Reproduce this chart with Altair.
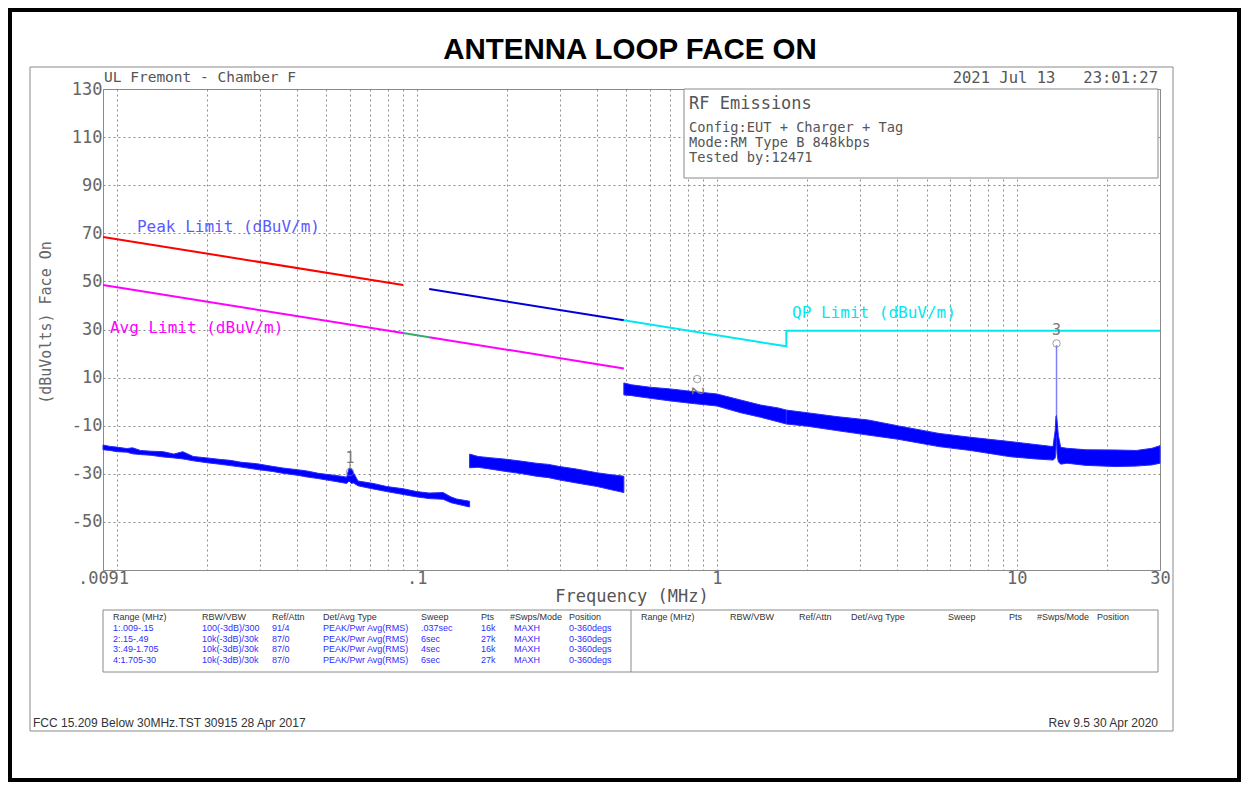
import altair as alt
import pandas as pd

# ---------------- text content ----------------
chart_title = "ANTENNA LOOP FACE ON"
site_label = "UL Fremont - Chamber F"
time_stamp = "2021 Jul 13\u00a0\u00a0\u00a023:01:27"
info_heading = "RF Emissions"
info_lines = ["Config:EUT + Charger + Tag", "Mode:RM Type B 848kbps", "Tested by:12471"]
footer_left = "FCC 15.209 Below 30MHz.TST 30915 28 Apr 2017"
footer_right = "Rev 9.5 30 Apr 2020"
x_title = "Frequency (MHz)"
y_title = "(dBuVolts) Face On"

# ---------------- axes ----------------
x_grid_values = [0.009, 0.01, 0.02, 0.03, 0.04, 0.05, 0.06, 0.07, 0.08, 0.09,
                 0.1, 0.2, 0.3, 0.4, 0.5, 0.6, 0.7, 0.8, 0.9,
                 1, 2, 3, 4, 5, 6, 7, 8, 9, 10, 20, 30]
x_tick_values = [0.009, 0.1, 1, 10, 30]
x_tick_labels = [".0091", ".1", "1", "10", "30"]
y_grid_values = [-70, -50, -30, -10, 10, 30, 50, 70, 90, 110, 130]
y_tick_labels = ["", "-50", "-30", "-10", "10", "30", "50", "70", "90", "110", "130"]

# ---------------- limit lines ----------------
limit_names = ["peak_a", "peak_b", "avg_a", "avg_gap", "avg_b", "qp"]
limit_freqs = [[0.009, 0.09], [0.11, 0.49], [0.009, 0.09], [0.09, 0.11], [0.11, 0.49],
               [0.49, 1.705, 1.705, 30]]
limit_levels = [[68.5, 48.5], [46.8, 33.8], [48.5, 28.5], [28.5, 26.8], [26.8, 13.8],
                [33.8, 23.0, 29.5, 29.5]]
limit_colors = ["#ff0000", "#0000d8", "#ff00ff", "#3aa870", "#ff00ff", "#00e8f0"]

limit_label_texts = ["Peak Limit (dBuV/m)", "Avg Limit (dBuV/m)", "QP Limit (dBuV/m)"]
limit_label_colors = ["#5a5aff", "#ff00ff", "#00e8f0"]

# ---------------- measured traces (freq MHz, lower, upper dBuV) ----------------
seg1_f = [0.0090, 0.0095, 0.0100, 0.0108, 0.0113, 0.0120, 0.0130, 0.0143, 0.0155, 0.0166,
          0.0180, 0.0200, 0.0220, 0.0239, 0.0260, 0.0293, 0.0330, 0.0358, 0.0400, 0.0430,
          0.0470, 0.0514, 0.0560, 0.0584, 0.0595, 0.0605, 0.0615, 0.0637, 0.0715, 0.0795,
          0.0900, 0.1000, 0.1100, 0.1224, 0.1300, 0.1360, 0.1500]
seg1_lo = [-20.0, -20.3, -20.8, -21.0, -21.7, -22.0, -22.3, -23.0, -23.4, -23.8,
           -24.6, -25.4, -26.0, -26.6, -27.2, -28.2, -29.0, -29.8, -30.6, -31.3,
           -32.0, -32.8, -33.6, -34.0, -33.0, -34.0, -33.8, -35.0, -36.3, -37.4,
           -38.6, -39.6, -40.3, -40.6, -42.0, -42.6, -43.8]
seg1_hi = [-18.0, -18.6, -18.9, -19.5, -19.2, -20.3, -20.6, -20.8, -21.8, -20.8,
           -22.8, -23.4, -24.0, -24.4, -25.2, -25.8, -26.9, -27.6, -28.3, -28.8,
           -29.8, -30.4, -31.0, -31.4, -27.6, -27.8, -29.5, -33.0, -34.0, -35.3,
           -36.2, -37.4, -38.0, -37.8, -39.6, -40.5, -41.4]

seg2_f = [0.150, 0.160, 0.175, 0.200, 0.225, 0.250, 0.275, 0.300, 0.340, 0.400, 0.440, 0.490]
seg2_lo = [-27.5, -27.3, -28.0, -29.1, -30.0, -31.0, -31.6, -32.6, -33.8, -35.3, -36.5, -37.8]
seg2_hi = [-21.8, -22.8, -23.3, -24.0, -24.8, -25.6, -26.1, -27.0, -28.0, -29.6, -30.3, -31.0]

seg3_f = [0.490, 0.520, 0.600, 0.700, 0.820, 1.000, 1.200, 1.400, 1.600, 1.705]
seg3_lo = [2.8, 2.5, 1.4, 0.3, -0.7, -1.8, -4.6, -6.5, -8.4, -9.3]
seg3_hi = [7.8, 7.0, 6.0, 5.3, 4.3, 3.2, 0.7, -1.4, -2.6, -3.5]

seg4_f = [1.705, 2.0, 2.5, 3.19, 4.0, 5.5, 7.0, 9.5, 11.5, 13.2, 13.42, 13.50, 13.56,
          13.62, 13.75, 14.0, 14.7, 17.0, 21.4, 25.0, 28.2, 30.0]
seg4_lo = [-9.3, -10.2, -12.0, -13.9, -15.6, -18.7, -20.3, -22.9, -23.8, -24.3, -23.5,
           -20.0, -14.0, -22.0, -25.0, -26.0, -25.6, -26.5, -27.0, -26.8, -26.3, -25.6]
seg4_hi = [-3.5, -4.6, -6.2, -7.6, -10.0, -13.2, -14.8, -16.6, -17.8, -18.7, -12.0,
           -6.0, -5.6, -8.0, -14.0, -19.0, -19.4, -20.0, -20.1, -20.3, -19.4, -18.3]

spike_f = [13.56]
spike_lo = [-5.6]
spike_hi = [23.5]

# markers: id, frequency, level
marker_ids = ["1", "2", "3"]
marker_freqs = [0.0599, 0.86, 13.56]
marker_levels = [-29.3, 9.4, 24.2]

# ---------------- settings table ----------------
table_header = ["Range (MHz)", "RBW/VBW", "Ref/Attn", "Det/Avg Type", "Sweep", "Pts",
                "#Swps/Mode", "Position"]
table_rows = [
    ["1:.009-.15", "100(-3dB)/300", "91/4", "PEAK/Pwr Avg(RMS)", ".037sec", "16k", "MAXH", "0-360degs"],
    ["2:.15-.49", "10k(-3dB)/30k", "87/0", "PEAK/Pwr Avg(RMS)", "6sec", "27k", "MAXH", "0-360degs"],
    ["3:.49-1.705", "10k(-3dB)/30k", "87/0", "PEAK/Pwr Avg(RMS)", "4sec", "16k", "MAXH", "0-360degs"],
    ["4:1.705-30", "10k(-3dB)/30k", "87/0", "PEAK/Pwr Avg(RMS)", "6sec", "27k", "MAXH", "0-360degs"],
]

# ---------------- layout (page pixels) ----------------
OX, OY = 103, 89          # page position of plot origin
PLOT_W, PLOT_H = 1057, 481
CANVAS_W, CANVAS_H = 1233, 774
MONO = "DejaVu Sans Mono"
SANS = "Liberation Sans"

limit_label_pos = [(0.01168, 72.6), (0.00949, 30.6), (1.782, 36.9)]
marker_text_pos = [(0.0599, -23.4), (0.86, 4.4), (13.56, 29.6)]
table_cols_left = [113, 202, 272, 323, 421, 481, 510, 569]
table_data_cols = [113, 202, 272, 323, 421, 481, 514, 569]
table_cols_right = [641, 730, 799, 851, 948, 1009, 1037, 1097]
table_rows_y = [617, 628, 639, 649, 660]


def vx(px):
    return px - OX


def vy(py):
    return py - OY


dummy = pd.DataFrame({"d": [0]})

xs = alt.Scale(type="log", domain=[0.009, 30], nice=False)
ys = alt.Scale(domain=[-70, 130], nice=False, zero=False)

xlabel_expr = " : ".join(
    [f"datum.value == {v} ? '{t}'" for v, t in zip(x_tick_values, x_tick_labels)]
) + " : ''"
ylabel_expr = " : ".join(
    [f"datum.value == {v} ? '{t}'" for v, t in zip(y_grid_values, y_tick_labels)]
) + " : ''"

xaxis = alt.Axis(values=x_grid_values, labelExpr=xlabel_expr, grid=True, gridDash=[2, 3],
                 gridColor="#8c8c8c", gridWidth=1, ticks=False, domain=False,
                 labelFont=MONO, labelFontSize=17, labelColor="#666666", labelPadding=0,
                 labelOverlap=False, labelFlush=False, labelBound=False,
                 title=x_title, titleFont=MONO, titleFontSize=17, titleFontWeight="normal",
                 titleColor="#555555", titlePadding=2)
yaxis = alt.Axis(values=y_grid_values, labelExpr=ylabel_expr, grid=True, gridDash=[2, 3],
                 gridColor="#8c8c8c", gridWidth=1, ticks=False, domain=False,
                 labelFont=MONO, labelFontSize=17, labelColor="#666666", labelPadding=1,
                 labelOverlap=False, labelFlush=False, labelBound=False,
                 title=y_title, titleFont=MONO, titleFontSize=15, titleFontWeight="normal",
                 titleColor="#666666", titleAngle=270, titleX=-58, titleY=233,
                 titleAlign="center", titleBaseline="middle")


def box(x0, y0, x1, y1, stroke, sw, fill="white", fill_opacity=0.0):
    return alt.Chart(dummy).mark_rect(stroke=stroke, strokeWidth=sw, fill=fill,
                                      fillOpacity=fill_opacity).encode(
        x=alt.value(vx(x0)), x2=alt.value(vx(x1)), y=alt.value(vy(y0)), y2=alt.value(vy(y1)))


def page_text(text, px, py, size, color, font, align="left", weight="normal"):
    return alt.Chart(dummy).mark_text(text=text, align=align, baseline="middle",
                                      fontSize=size, font=font, color=color,
                                      fontWeight=weight).encode(
        x=alt.value(vx(px)), y=alt.value(vy(py)))


# ---- frames ----
outer = box(10, 10, 1239, 780, "black", 4)
gray_frame = box(30, 67, 1173, 731, "#8a8a8a", 1)
info_box = box(684, 89, 1158, 178, "#8a8a8a", 1, fill="white", fill_opacity=1.0)
table_box = box(103, 610, 1158, 672, "#8a8a8a", 1)
table_div = alt.Chart(dummy).mark_rule(color="#8a8a8a", strokeWidth=1).encode(
    x=alt.value(vx(631)), y=alt.value(vy(610)), y2=alt.value(vy(672)))

# ---- limits ----
lim_rows = []
for name, fs, ls, col in zip(limit_names, limit_freqs, limit_levels, limit_colors):
    for i, (f, l) in enumerate(zip(fs, ls)):
        lim_rows.append({"seg": name, "f": f, "db": l, "col": col, "i": i})
lim_df = pd.DataFrame(lim_rows)
limits = alt.Chart(lim_df).mark_line(strokeWidth=2).encode(
    x=alt.X("f:Q", scale=xs, axis=xaxis),
    y=alt.Y("db:Q", scale=ys, axis=yaxis),
    color=alt.Color("col:N", scale=None),
    detail="seg:N",
    order="i:Q",
)

# ---- traces ----
tr_rows = []
for seg, fs, lo, hi in [("s1", seg1_f, seg1_lo, seg1_hi), ("s2", seg2_f, seg2_lo, seg2_hi),
                        ("s3", seg3_f, seg3_lo, seg3_hi), ("s4", seg4_f, seg4_lo, seg4_hi)]:
    for f, a, b in zip(fs, lo, hi):
        tr_rows.append({"seg": seg, "f": f, "lo": a, "hi": b})
tr_df = pd.DataFrame(tr_rows)
traces = alt.Chart(tr_df).mark_area(color="#0000ff", stroke="#2a2aff", strokeWidth=1,
                                    interpolate="linear").encode(
    x=alt.X("f:Q", scale=xs, axis=xaxis),
    y=alt.Y("lo:Q", scale=ys, axis=yaxis),
    y2="hi:Q",
    detail="seg:N",
)

spike_df = pd.DataFrame({"f": spike_f, "lo": spike_lo, "hi": spike_hi})
spike = alt.Chart(spike_df).mark_rule(color="#8080ff", strokeWidth=1.5).encode(
    x=alt.X("f:Q", scale=xs, axis=xaxis),
    y=alt.Y("lo:Q", scale=ys, axis=yaxis),
    y2="hi:Q",
)

# ---- limit labels ----
lab_df = pd.DataFrame({
    "t": limit_label_texts,
    "f": [p[0] for p in limit_label_pos],
    "db": [p[1] for p in limit_label_pos],
    "col": limit_label_colors,
})
limit_labels = alt.Chart(lab_df).mark_text(align="left", baseline="middle", font=MONO,
                                           fontSize=16).encode(
    x=alt.X("f:Q", scale=xs, axis=xaxis),
    y=alt.Y("db:Q", scale=ys, axis=yaxis),
    text="t:N",
    color=alt.Color("col:N", scale=None),
)

# ---- markers ----
mk_df = pd.DataFrame({"id": marker_ids, "f": marker_freqs, "db": marker_levels})
mk_circles = alt.Chart(mk_df).mark_point(shape="circle", filled=False, color="#777777",
                                         size=55, strokeWidth=1).encode(
    x=alt.X("f:Q", scale=xs, axis=xaxis),
    y=alt.Y("db:Q", scale=ys, axis=yaxis),
)
mkt_df = pd.DataFrame({"id": marker_ids, "f": [p[0] for p in marker_text_pos],
                       "db": [p[1] for p in marker_text_pos]})
mk_text_upright = alt.Chart(mkt_df[mkt_df["id"] != "2"]).mark_text(
    font=MONO, fontSize=15, color="#777777", baseline="middle").encode(
    x=alt.X("f:Q", scale=xs, axis=xaxis),
    y=alt.Y("db:Q", scale=ys, axis=yaxis),
    text="id:N",
)
mk_text_rot = alt.Chart(mkt_df[mkt_df["id"] == "2"]).mark_text(
    font=MONO, fontSize=15, color="#777777", baseline="middle", angle=90).encode(
    x=alt.X("f:Q", scale=xs, axis=xaxis),
    y=alt.Y("db:Q", scale=ys, axis=yaxis),
    text="id:N",
)
arrow_df = pd.DataFrame({"f": [marker_freqs[0]], "a": [-25.2], "b": [-28.2]})
mk_arrow = alt.Chart(arrow_df).mark_rule(color="#777777", strokeWidth=1).encode(
    x=alt.X("f:Q", scale=xs, axis=xaxis),
    y=alt.Y("a:Q", scale=ys, axis=yaxis),
    y2="b:Q",
)

# ---- page texts ----
texts = [
    page_text(chart_title, 630, 50, 29.5, "black", SANS, align="center", weight="bold"),
    page_text(site_label, 104, 78, 14.5, "#555555", MONO),
    page_text(time_stamp, 1158, 78, 15.5, "#555555", MONO, align="right"),
    page_text(info_heading, 689, 104, 17, "#555555", MONO),
    page_text(footer_left, 33, 723, 12, "#333333", SANS),
    page_text(footer_right, 1158, 723, 12, "#333333", SANS, align="right"),
]
for line, py in zip(info_lines, [128, 143, 158]):
    texts.append(page_text(line, 689, py, 13.7, "#555555", MONO))

tab_rows = []
for t, px in zip(table_header, table_cols_left):
    tab_rows.append({"t": t, "px": vx(px), "py": vy(table_rows_y[0]), "col": "#333333"})
for t, px in zip(table_header, table_cols_right):
    tab_rows.append({"t": t, "px": vx(px), "py": vy(table_rows_y[0]), "col": "#333333"})
for row, py in zip(table_rows, table_rows_y[1:]):
    for t, px in zip(row, table_data_cols):
        tab_rows.append({"t": t, "px": vx(px), "py": vy(py), "col": "#2e2eff"})
tab_df = pd.DataFrame(tab_rows)
table_text = alt.Chart(tab_df).mark_text(align="left", baseline="middle", font=SANS,
                                         fontSize=9).encode(
    x=alt.X("px:Q", scale=None, axis=None),
    y=alt.Y("py:Q", scale=None, axis=None),
    text="t:N",
    color=alt.Color("col:N", scale=None),
)

chart = alt.layer(
    outer, gray_frame, table_box, table_div, info_box,
    limits, traces, spike, limit_labels, mk_circles, mk_text_upright, mk_text_rot, mk_arrow,
    table_text, *texts,
).properties(
    width=PLOT_W, height=PLOT_H,
    autosize=alt.AutoSizeParams(type="none"),
    padding={"left": OX - 8, "top": OY - 8,
             "right": CANVAS_W - (OX - 8) - PLOT_W,
             "bottom": CANVAS_H - (OY - 8) - PLOT_H},
    background="white",
).configure_view(stroke="#8a8a8a", strokeWidth=1)

chart.save("out.html", embed_options={"renderer": "svg", "actions": False})
